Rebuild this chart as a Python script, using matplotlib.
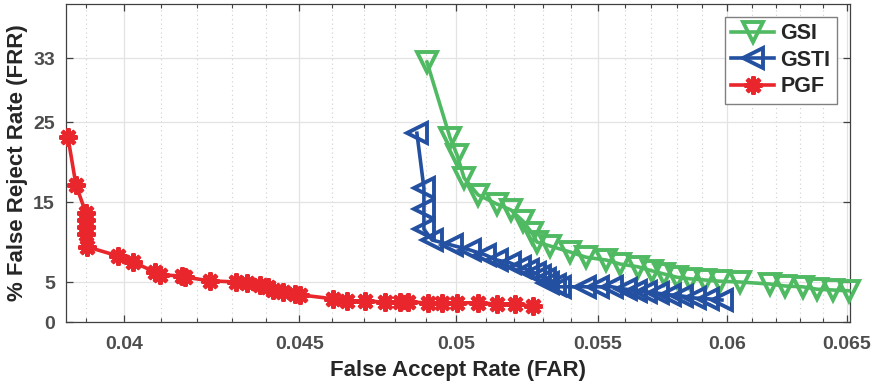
import matplotlib
matplotlib.use("Agg")
import matplotlib.pyplot as plt
from matplotlib.ticker import NullFormatter

plt.rcParams["font.family"] = ["Liberation Sans", "DejaVu Sans"]
plt.rcParams["font.weight"] = "bold"

# GSI
gsi_far = [0.04903, 0.04980, 0.05003, 0.05027, 0.05074, 0.05139, 0.05188, 0.05230,
           0.05262, 0.05279, 0.05326, 0.05398, 0.05456, 0.05530, 0.05582, 0.05650,
           0.05703, 0.05750, 0.05800, 0.05851, 0.05910, 0.05970, 0.06051, 0.06174,
           0.06237, 0.06312, 0.06372, 0.06441, 0.06510]
gsi_frr = [32.5, 23.0, 20.9, 18.0, 15.9, 14.75, 14.0, 12.6,
           11.1, 10.0, 9.5, 8.75, 8.1, 7.75, 7.25, 6.9,
           6.4, 6.0, 5.6, 5.4, 5.25, 5.1, 5.0, 4.75,
           4.5, 4.4, 4.1, 4.0, 3.9]

# GSTI
gsti_far = [0.04870, 0.04893, 0.04893, 0.04893, 0.04920, 0.04986, 0.05047, 0.05098,
            0.05139, 0.05184, 0.05219, 0.05248, 0.05272, 0.05290, 0.05308, 0.05318,
            0.05344, 0.05362, 0.05452, 0.05500, 0.05552, 0.05604, 0.05642, 0.05680,
            0.05726, 0.05773, 0.05820, 0.05871, 0.05922, 0.05978]
gsti_frr = [23.6, 16.75, 14.1, 11.6, 10.25, 9.6, 9.0, 8.4,
            7.75, 7.4, 6.9, 6.5, 6.1, 5.75, 5.4, 4.9,
            4.6, 4.4, 4.4, 4.4, 4.4, 4.1, 3.9, 3.75,
            3.6, 3.4, 3.25, 3.0, 2.9, 2.75]

# PGF
pgf_far = [0.03852, 0.03873, 0.03899, 0.03899, 0.03899, 0.03899, 0.03902, 0.03984,
           0.04024, 0.04084, 0.04098, 0.04159, 0.04168, 0.04238, 0.04313, 0.04345,
           0.04383, 0.04406, 0.04421, 0.04451, 0.04487, 0.04502, 0.04603, 0.04647,
           0.04703, 0.04767, 0.04815, 0.04841, 0.04906, 0.04953, 0.05003, 0.05074,
           0.05139, 0.05202, 0.05265]
pgf_frr = [23.1, 17.1, 13.6, 12.75, 11.9, 11.0, 9.4, 8.25,
           7.5, 6.25, 5.9, 5.75, 5.6, 5.15, 5.0, 4.9,
           4.6, 4.4, 4.0, 3.75, 3.5, 3.4, 2.9, 2.6,
           2.6, 2.5, 2.5, 2.5, 2.4, 2.4, 2.4, 2.4,
           2.25, 2.25, 2.0]

x_major = [0.04, 0.045, 0.05, 0.055, 0.06, 0.065]
x_labels = ["0.04", "0.045", "0.05", "0.055", "0.06", "0.065"]
x_minor = [0.039, 0.041, 0.042, 0.043, 0.044, 0.046, 0.047, 0.048, 0.049,
           0.051, 0.052, 0.053, 0.054, 0.056, 0.057, 0.058, 0.059,
           0.061, 0.062, 0.063, 0.064]
y_ticks = [0, 5, 15, 25, 33]

green = "#4fba62"
blue = "#2350a0"
red = "#e8262b"

fig = plt.figure(figsize=(8.8, 3.89), dpi=100)
ax = fig.add_axes([0.075, 0.1722, 0.8909, 0.8175])

ax.plot(gsi_far, gsi_frr, color=green, lw=2.6, marker="v", ms=15,
        mfc="none", mew=2.8, label="GSI", clip_on=False, zorder=3)
ax.plot(gsti_far, gsti_frr, color=blue, lw=2.6, marker="<", ms=15,
        mfc="none", mew=2.8, label="GSTI", clip_on=False, zorder=3)
ax.plot(pgf_far, pgf_frr, color=red, lw=2.6, marker=(8, 2, 0), ms=13,
        mew=3.0, label="PGF", clip_on=False, zorder=3)

ax.set_xscale("log")
ax.set_xlim(0.03847, 0.06515)
ax.set_ylim(0, 39.75)
ax.set_xticks(x_major)
ax.set_xticklabels(x_labels)
ax.set_xticks(x_minor, minor=True)
ax.xaxis.set_minor_formatter(NullFormatter())
ax.set_yticks(y_ticks)

ax.grid(True, which="major", color="#e3e3e3", lw=0.9, ls="-")
ax.grid(True, which="minor", axis="x", color="#d0d0d0", lw=0.8, ls=(0, (1, 3)))
ax.set_axisbelow(True)

ax.tick_params(which="both", direction="in", top=True, right=True,
               colors="#404040", labelsize=14, labelcolor="#4d4d4d")
ax.tick_params(which="major", length=5, width=0.9)
ax.tick_params(axis="x", which="major", pad=10)
ax.tick_params(axis="y", which="major", pad=8)
ax.tick_params(which="minor", length=3, width=0.8)
for lab in ax.get_xticklabels() + ax.get_yticklabels():
    lab.set_fontweight("bold")
for sp in ax.spines.values():
    sp.set_color("#404040")
    sp.set_linewidth(0.9)

ax.set_xlabel("False Accept Rate (FAR)", fontsize=16, fontweight="bold",
              color="#262626", labelpad=5)
ax.set_ylabel("% False Reject Rate (FRR)", fontsize=16, fontweight="bold",
              color="#262626", labelpad=4)

leg = ax.legend(loc="upper right", fontsize=15.5, handlelength=2.0,
                borderaxespad=0.6, fancybox=False, framealpha=1,
                edgecolor="#808080", labelspacing=0.25, handletextpad=0.3,
                borderpad=0.3)
leg.get_frame().set_linewidth(1.0)
for t in leg.get_texts():
    t.set_color("#262626")

fig.savefig("out.png", dpi=100)
